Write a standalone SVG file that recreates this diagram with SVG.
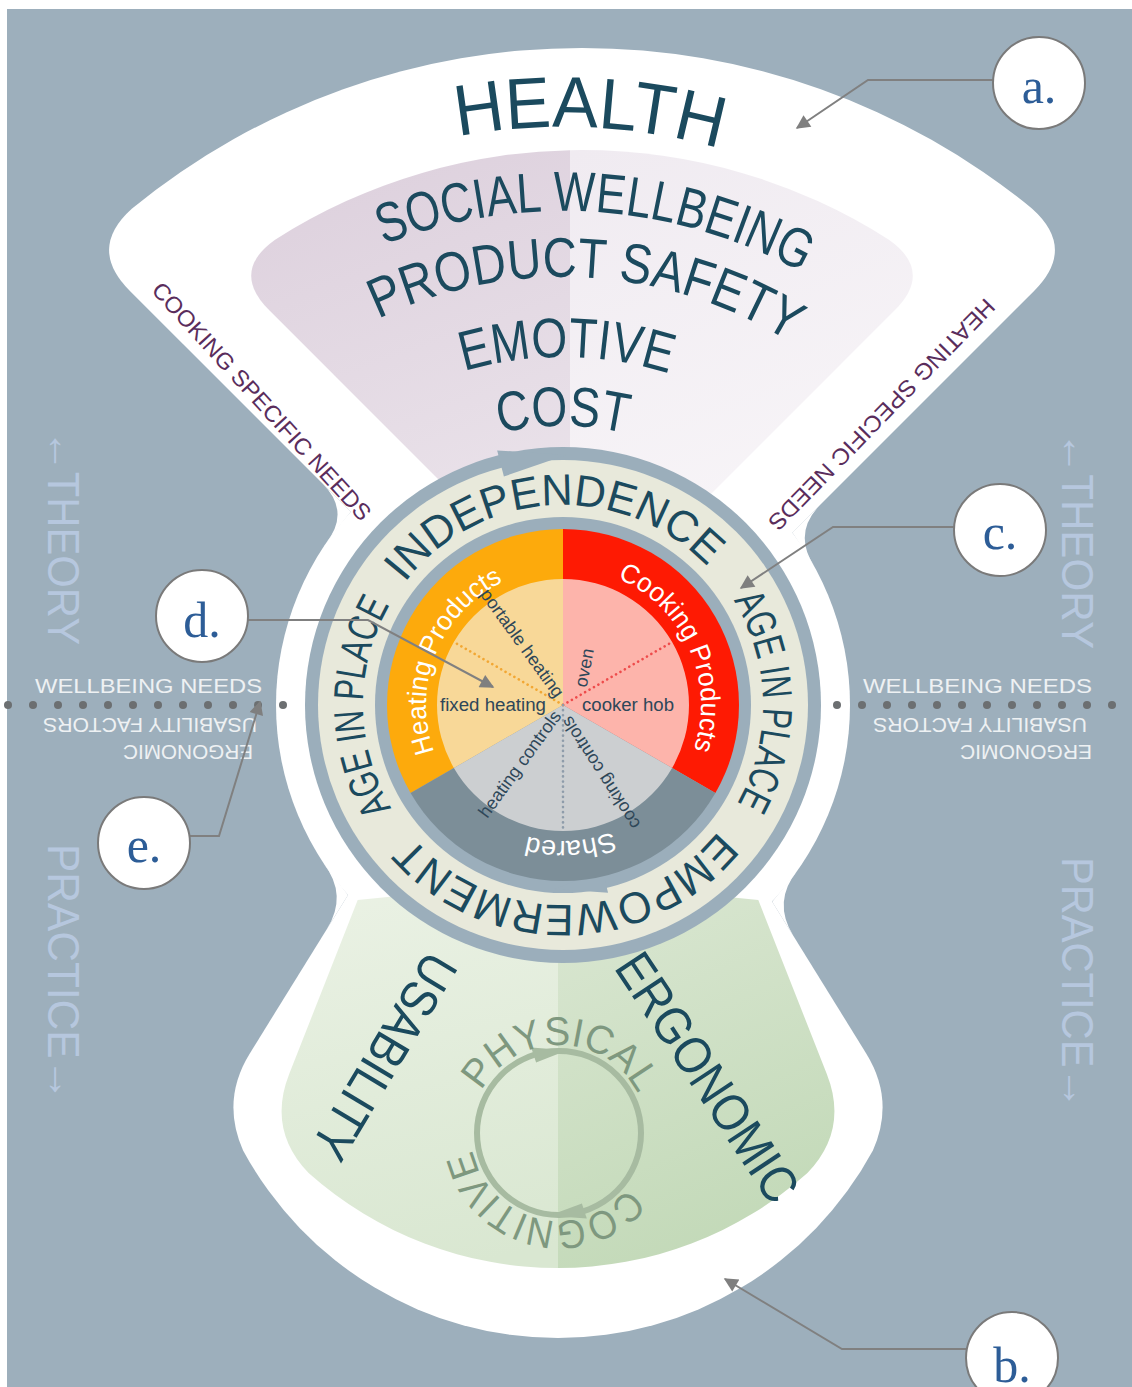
<svg xmlns="http://www.w3.org/2000/svg" width="1132" height="1387" viewBox="0 0 1132 1387">
<defs>
<style>
.s{font-family:"Liberation Sans",Arial,sans-serif}
.dk{fill:#1B4A5E}
.band{fill:#fff;font-size:27px}
.pie{fill:#2E4759;font-size:18px}
.edge{fill:#5A2D5C;font-size:23px}
.side{fill:#B6C7DE;font-size:44px}
.wb{fill:#EEF1F3;font-size:21px}
.phys{fill:#7E987F;font-size:40px}
.call{fill:#fff;stroke:#7A7A7A;stroke-width:2}
.callt{font-family:"Liberation Serif","Times New Roman",serif;font-size:50px;fill:#2D5D97}
.lead{fill:none;stroke:#808080;stroke-width:2;marker-end:url(#ah)}
.dot{fill:#6C6F71}
.ringc{fill:#9BAEBB}
</style>
<marker id="ah" viewBox="0 0 10 10" refX="9" refY="5" markerWidth="17" markerHeight="14" markerUnits="userSpaceOnUse" orient="auto">
<path d="M0,0 L10,5 L0,10 Z" fill="#7F7F7F"/>
</marker>
<linearGradient id="lavL" x1="0" y1="0" x2="0.5" y2="1"><stop offset="0" stop-color="#DCCFDC"/><stop offset="1" stop-color="#EEE8EE"/></linearGradient>
<linearGradient id="lavR" x1="0.5" y1="0" x2="1" y2="1"><stop offset="0" stop-color="#F0EBF1"/><stop offset="1" stop-color="#FAF8FA"/></linearGradient>
<linearGradient id="grL" x1="0" y1="0" x2="0.3" y2="1"><stop offset="0" stop-color="#EBF2E5"/><stop offset="1" stop-color="#D9E7D1"/></linearGradient>
<linearGradient id="grR" x1="0.4" y1="0" x2="1" y2="1"><stop offset="0" stop-color="#DCE8D4"/><stop offset="1" stop-color="#BFD7B4"/></linearGradient>
<clipPath id="cTL"><rect x="0" y="0" width="570" height="800"/></clipPath>
<clipPath id="cTR"><rect x="570" y="0" width="600" height="800"/></clipPath>
<clipPath id="cBL"><rect x="0" y="800" width="558" height="600"/></clipPath>
<clipPath id="cBR"><rect x="558" y="800" width="600" height="600"/></clipPath>
<path id="lav" d="M582,623 L269.3,310.3 Q230.4,271.4 275.1,239.7 A570,570 0 0 1 888.9,239.7 Q933.6,271.4 894.7,310.3 Z"/>
<path id="grn" d="M357.7,900 L289.2,1074 Q267.2,1129.8 308.6,1173.1 A375,375 0 0 0 807.4,1173.1 Q848.8,1129.8 826.8,1074 L758.3,900 L558,880 Z"/>
<path id="pHealth" d="M76.03,393.57 A578,578 0 0 1 1076.15,439"/>
<path id="pSocial" d="M152.5,430.2 A494,494 0 0 1 1006.3,486.9"/>
<path id="pProd" d="M204.85,470.63 A428,428 0 0 1 945.03,512.01"/>
<path id="pEmo" d="M263.48,527.87 A348,348 0 0 1 866.18,534.17"/>
<path id="pCost" d="M321.38,565.5 A279,279 0 0 1 804.62,565.5"/>
<path id="pInd" d="M363.12,698.02 A200,200 0 0 1 761.05,677.17"/>
<path id="pAgeR" d="M576.95,505.49 A200,200 0 0 1 583.91,903.9"/>
<path id="pEmp" d="M762.51,718.95 A200,200 0 0 1 364.1,725.91"/>
<path id="pAgeL" d="M547.31,904.38 A200,200 0 0 1 543.83,505.92"/>
<path id="pHeat" d="M500.8,827.07 A137,137 0 0 1 603.05,573.99"/>
<path id="pCook" d="M518.07,574.52 A138,138 0 0 1 629.9,825.7"/>
<path id="pShared" d="M698.92,709.75 A136,136 0 0 1 428.32,723.93"/>
<path id="pPhys" d="M471.05,1129.93 A88,88 0 0 1 647,1133"/>
<path id="pCog" d="M644.2,1155.03 A88,88 0 0 1 473.09,1113.95"/>
</defs>

<g id="background">
<rect x="0" y="0" width="1132" height="1387" fill="#ffffff"/>
<rect x="7" y="9" width="1125" height="1378" fill="#9DAFBC"/>
</g>

<g id="white-shape" fill="#ffffff">
<path d="M582,743 L129.7,290.7 Q87.3,248.3 132.1,208.4 A711,711 0 0 1 1031.9,208.4 Q1076.7,248.3 1034.3,290.7 Z"/>
<path d="M558,760 L406.9,800 L249.8,1053.4 Q220.8,1100.2 243.1,1150.4 A358,358 0 0 0 872.9,1150.4 Q895.2,1100.2 866.2,1053.4 L709.1,800 Z"/>
<circle cx="563" cy="705" r="287"/>
<path d="M322.5,483.5 Q350.8,511.8 325.9,543.3 L350.8,511.8 Z"/>
<path d="M820.7,504.3 Q792.4,532.6 814.3,566.3 L792.4,532.6 Z"/>
<path d="M326.9,929 Q348,895 323.7,863.4 L348,895 Z"/>
<path d="M793.3,935.8 Q772.2,901.8 797.4,870.6 L772.2,901.8 Z"/>
</g>

<g id="health-fan">
<use href="#lav" fill="url(#lavL)" clip-path="url(#cTL)"/>
<use href="#lav" fill="url(#lavR)" clip-path="url(#cTR)"/>
<text class="s dk" font-size="72"><textPath href="#pHealth" startOffset="50%" text-anchor="middle" textLength="264" lengthAdjust="spacingAndGlyphs">HEALTH</textPath></text>
<text class="s dk" font-size="56"><textPath href="#pSocial" startOffset="50%" text-anchor="middle" textLength="433" lengthAdjust="spacingAndGlyphs">SOCIAL WELLBEING</textPath></text>
<text class="s dk" font-size="56"><textPath href="#pProd" startOffset="50%" text-anchor="middle" textLength="430" lengthAdjust="spacingAndGlyphs">PRODUCT SAFETY</textPath></text>
<text class="s dk" font-size="56"><textPath href="#pEmo" startOffset="50%" text-anchor="middle" textLength="208" lengthAdjust="spacingAndGlyphs">EMOTIVE</textPath></text>
<text class="s dk" font-size="56"><textPath href="#pCost" startOffset="50%" text-anchor="middle" textLength="128" lengthAdjust="spacingAndGlyphs">COST</textPath></text>
<text class="s edge" transform="translate(262,401) rotate(47.7)" text-anchor="middle" y="8.4" textLength="313" lengthAdjust="spacingAndGlyphs">COOKING SPECIFIC NEEDS</text>
<text class="s edge" transform="translate(882,415) rotate(134.3)" text-anchor="middle" y="8.4" textLength="313" lengthAdjust="spacingAndGlyphs">HEATING SPECIFIC NEEDS</text>
</g>

<g id="usability-fan">
<use href="#grn" fill="url(#grL)" clip-path="url(#cBL)"/>
<use href="#grn" fill="url(#grR)" clip-path="url(#cBR)"/>
<text class="s dk" font-size="52" transform="translate(385,1057) rotate(121)" text-anchor="middle" y="18.6" textLength="230" lengthAdjust="spacingAndGlyphs">USABILITY</text>
<text class="s dk" font-size="52" transform="translate(708,1077) rotate(56.5)" text-anchor="middle" y="18.6" textLength="287" lengthAdjust="spacingAndGlyphs">ERGONOMIC</text>
<circle cx="559" cy="1133" r="82" fill="none" stroke="#A7BBA1" stroke-width="6"/>
<path d="M586.8,1218.6 L581.9,1203.4 L548.8,1215.7 Z" fill="#A7BBA1"/>
<path d="M531.2,1047.4 L536.1,1062.6 L567.2,1050.3 Z" fill="#A7BBA1"/>
<text class="s phys"><textPath href="#pPhys" startOffset="50%" text-anchor="middle" textLength="192" lengthAdjust="spacingAndGlyphs">PHYSICAL</textPath></text>
<text class="s phys"><textPath href="#pCog" startOffset="50%" text-anchor="middle" textLength="200" lengthAdjust="spacingAndGlyphs">COGNITIVE</textPath></text>
</g>

<g id="side-labels">
<text class="s side" transform="translate(48,430) rotate(90)" textLength="215" lengthAdjust="spacingAndGlyphs">←THEORY</text>
<text class="s side" transform="translate(48,844) rotate(90)" textLength="257" lengthAdjust="spacingAndGlyphs">PRACTICE→</text>
<text class="s side" transform="translate(1062,432) rotate(90)" textLength="217" lengthAdjust="spacingAndGlyphs">←THEORY</text>
<text class="s side" transform="translate(1062,857) rotate(90)" textLength="252" lengthAdjust="spacingAndGlyphs">PRACTICE→</text>
<text class="s wb" x="35" y="693" textLength="227" lengthAdjust="spacingAndGlyphs">WELLBEING NEEDS</text>
<text class="s wb" x="863" y="693" textLength="229" lengthAdjust="spacingAndGlyphs">WELLBEING NEEDS</text>
<text class="s wb" font-size="20.5" transform="translate(257,718) rotate(180)" textLength="214" lengthAdjust="spacingAndGlyphs">USABILITY FACTORS</text>
<text class="s wb" font-size="20.5" transform="translate(253,745) rotate(180)" textLength="130" lengthAdjust="spacingAndGlyphs">ERGONOMIC</text>
<text class="s wb" font-size="20.5" transform="translate(1087,718) rotate(180)" textLength="214" lengthAdjust="spacingAndGlyphs">USABILITY FACTORS</text>
<text class="s wb" font-size="20.5" transform="translate(1092,745) rotate(180)" textLength="132" lengthAdjust="spacingAndGlyphs">ERGONOMIC</text>
<g class="dot">
<circle cx="8" cy="705" r="4"/><circle cx="33" cy="705" r="4"/><circle cx="58" cy="705" r="4"/><circle cx="83" cy="705" r="4"/><circle cx="108" cy="705" r="4"/><circle cx="133" cy="705" r="4"/><circle cx="158" cy="705" r="4"/><circle cx="183" cy="705" r="4"/><circle cx="208" cy="705" r="4"/><circle cx="233" cy="705" r="4"/><circle cx="258" cy="705" r="4"/><circle cx="283" cy="705" r="4"/>
<circle cx="837" cy="705" r="4"/><circle cx="862" cy="705" r="4"/><circle cx="887" cy="705" r="4"/><circle cx="912" cy="705" r="4"/><circle cx="937" cy="705" r="4"/><circle cx="962" cy="705" r="4"/><circle cx="987" cy="705" r="4"/><circle cx="1012" cy="705" r="4"/><circle cx="1037" cy="705" r="4"/><circle cx="1062" cy="705" r="4"/><circle cx="1087" cy="705" r="4"/><circle cx="1112" cy="705" r="4"/>
</g>
</g>

<g id="core-rings">
<circle cx="563" cy="705" r="258" class="ringc"/>
<circle cx="563" cy="705" r="245" fill="#E8E9DB"/>
<circle cx="563" cy="705" r="188" class="ringc"/>
<path d="M497.15,450.4 L503.9,476.5 L566.2,455 Z" class="ringc"/>
<path d="M608.05,892.67 L602.68,870.31 L554.6,888.9 Z" class="ringc"/>
<text class="s dk" font-size="44"><textPath href="#pInd" startOffset="50%" text-anchor="middle" textLength="344" lengthAdjust="spacingAndGlyphs">INDEPENDENCE</textPath></text>
<text class="s dk" font-size="42"><textPath href="#pAgeR" startOffset="50%" text-anchor="middle" textLength="213" lengthAdjust="spacingAndGlyphs">AGE IN PLACE</textPath></text>
<text class="s dk" font-size="44"><textPath href="#pEmp" startOffset="50%" text-anchor="middle" textLength="349" lengthAdjust="spacingAndGlyphs">EMPOWERMENT</textPath></text>
<text class="s dk" font-size="42"><textPath href="#pAgeL" startOffset="50%" text-anchor="middle" textLength="213" lengthAdjust="spacingAndGlyphs">AGE IN PLACE</textPath></text>
</g>

<g id="products-wheel">
<path d="M563,705 L410.58,793 A176,176 0 0 1 563,529 Z" fill="#FDAA0C"/>
<path d="M563,705 L563,529 A176,176 0 0 1 715.42,793 Z" fill="#FE1A03"/>
<path d="M563,705 L715.42,793 A176,176 0 0 1 410.58,793 Z" fill="#7C8E98"/>
<path d="M563,705 L453.88,768 A126,126 0 0 1 563,579 Z" fill="#F8D898"/>
<path d="M563,705 L563,579 A126,126 0 0 1 672.12,768 Z" fill="#FDB4AB"/>
<path d="M563,705 L672.12,768 A126,126 0 0 1 453.88,768 Z" fill="#CCCFD1"/>
<g fill="none" stroke-width="2.6" stroke-linecap="round" stroke-dasharray="0.1 5">
<line x1="563" y1="705" x2="453.9" y2="642" stroke="#F2A733"/>
<line x1="563" y1="705" x2="672.1" y2="642" stroke="#EE4B4B"/>
<line x1="563" y1="705" x2="563" y2="831" stroke="#8E9CAA"/>
</g>
<text class="s band"><textPath href="#pHeat" startOffset="50%" text-anchor="middle" textLength="201" lengthAdjust="spacingAndGlyphs">Heating Products</textPath></text>
<text class="s band"><textPath href="#pCook" startOffset="50%" text-anchor="middle" textLength="206" lengthAdjust="spacingAndGlyphs">Cooking Products</textPath></text>
<text class="s band"><textPath href="#pShared" startOffset="50%" text-anchor="middle">Shared</textPath></text>
<text class="s pie" x="440" y="711" textLength="106" lengthAdjust="spacingAndGlyphs">fixed heating</text>
<text class="s pie" x="582" y="711" textLength="92" lengthAdjust="spacingAndGlyphs">cooker hob</text>
<text class="s pie" transform="translate(585.5,668) rotate(-79)" text-anchor="middle" y="4.8">oven</text>
<text class="s pie" font-size="15.5" transform="translate(521,644) rotate(54.2)" text-anchor="middle" y="4.5">portable heating</text>
<text class="s pie" font-size="15.5" transform="translate(521,765) rotate(-54)" text-anchor="middle" y="4.5">heating controls</text>
<text class="s pie" font-size="15.5" transform="translate(602,772) rotate(-122.8)" text-anchor="middle" y="4.5">cooking controls</text>
</g>

<g id="connectors">
<path class="lead" d="M993,80 L868,80 L797,128"/>
<path class="lead" d="M954,527 L833,527 L741,588"/>
<path class="lead" d="M248,620 L368,620 L493,687"/>
<path class="lead" d="M190,836 L219,836 L260,702"/>
<path class="lead" d="M966,1349 L842,1349 L725,1279"/>
</g>

<g id="callout-a"><ellipse class="call" cx="1039" cy="83" rx="46" ry="46"/><text class="callt" x="1039" y="103" text-anchor="middle">a.</text></g>
<g id="callout-c"><ellipse class="call" cx="1000" cy="530" rx="46" ry="46"/><text class="callt" x="1000" y="549" text-anchor="middle">c.</text></g>
<g id="callout-d"><ellipse class="call" cx="202" cy="616" rx="46" ry="46"/><text class="callt" x="202" y="637" text-anchor="middle">d.</text></g>
<g id="callout-e"><ellipse class="call" cx="144" cy="843" rx="46" ry="46"/><text class="callt" x="144" y="862" text-anchor="middle">e.</text></g>
<g id="callout-b"><ellipse class="call" cx="1012" cy="1358" rx="46" ry="46"/><text class="callt" x="1012" y="1382" text-anchor="middle">b.</text></g>
</svg>
